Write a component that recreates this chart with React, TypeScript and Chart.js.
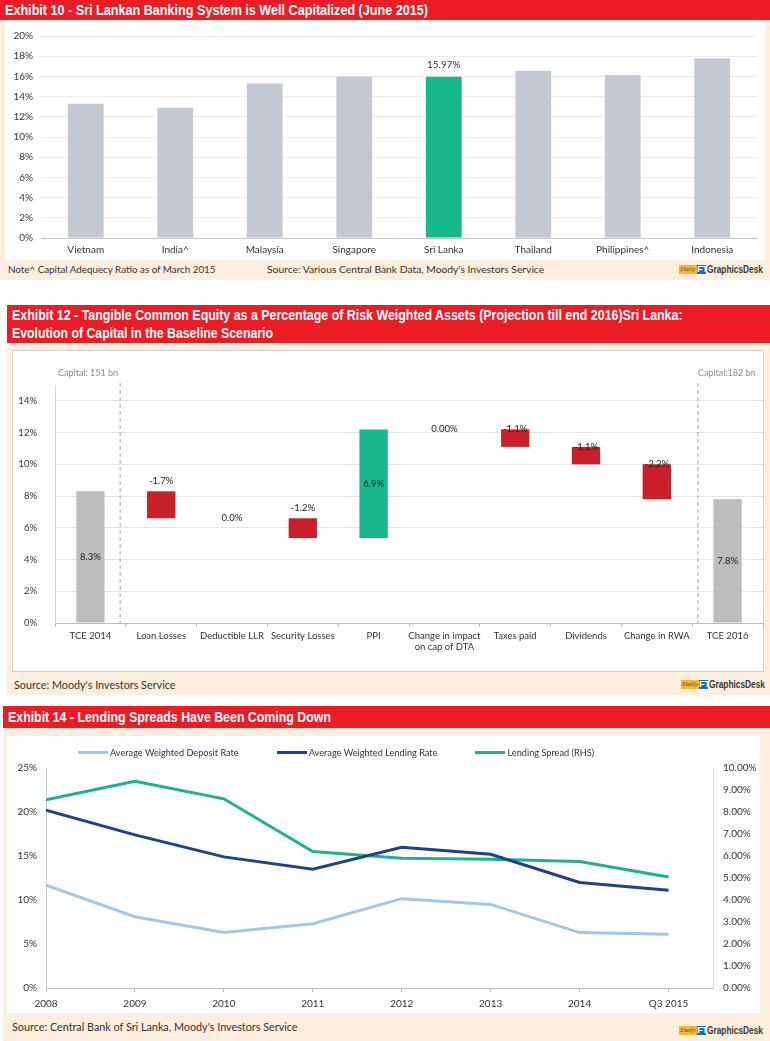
import React, { useEffect, useRef } from "react";
import Chart from "chart.js/auto";

document.body.style.margin = "0";

// ---------- Exhibit 10 data ----------
const capCountries = ["Vietnam", "India^", "Malaysia", "Singapore", "Sri Lanka", "Thailand", "Philippines^", "Indonesia"];
const capRatios = [13.3, 12.9, 15.3, 16.0, 15.97, 16.55, 16.15, 17.8];
const capHighlight = "Sri Lanka";

// ---------- Exhibit 12 data ----------
const wfCategories: any[] = ["TCE 2014", "Loan Losses", "Deductible LLR", "Security Losses", "PPI", ["Change in impact", "on cap of DTA"], "Taxes paid", "Dividends", "Change in RWA", "TCE 2016"];
const wfLevels = [8.3, 6.6, 6.6, 5.35, 12.2, 12.2, 11.1, 10.0, 7.8, 7.8];
const wfKinds = ["total", "step", "step", "step", "step", "step", "step", "step", "step", "total"];
const wfLabels = ["8.3%", "-1.7%", "0.0%", "-1.2%", "6.9%", "0.00%", "-1.1%", "-1.1%", "-2.2%", "7.8%"];
const wfLabelPlacement = ["middle", "above", "level", "above", "middle", "level", "edge", "edge", "edge", "middle"];
const capitalStartLabel = "Capital: 151 bn";
const capitalEndLabel = "Capital:182 bn";

// ---------- Exhibit 14 data ----------
const rateYears = ["2008", "2009", "2010", "2011", "2012", "2013", "2014", "Q3 2015"];
const depositRate = [11.7, 8.1, 6.3, 7.3, 10.15, 9.5, 6.3, 6.1];
const lendingRate = [20.2, 17.4, 14.9, 13.5, 16.0, 15.2, 12.0, 11.1];
const lendingSpread = [8.55, 9.4, 8.6, 6.2, 5.9, 5.85, 5.75, 5.05];
const rateSeriesNames = ["Average Weighted Deposit Rate", "Average Weighted Lending Rate", "Lending Spread (RHS)"];

const FONT = "Lato, 'Open Sans', sans-serif";
const TITLE_FONT = "'Liberation Sans', Arial, sans-serif";
const RED = "#ec1c24";
const CREAM = "#fdeedd";
const GREEN = "#18b88a";
const BAR_GREY = "#c3c8d1";
const WF_RED = "#c9202a";
const WF_GREY = "#bdbdbd";
const rateColors = ["#a4c6e7", "#213f8f", "#1ab48a"];

let measureCtx: CanvasRenderingContext2D | null = null;
function textWidth(text: string, font: string) {
  if (!measureCtx) measureCtx = document.createElement("canvas").getContext("2d");
  measureCtx!.font = font;
  return measureCtx!.measureText(text).width;
}

function Squeeze({ text, size, bold, family, width, color }: any) {
  const font = `${bold ? "bold " : ""}${size}px ${family}`;
  const w = textWidth(text, font);
  const s = Math.min(1, width / w);
  return (
    <span
      style={{
        display: "inline-block",
        font,
        color,
        transform: `scaleX(${s})`,
        transformOrigin: "left center",
        whiteSpace: "nowrap",
        width: w,
      }}
    >
      {text}
    </span>
  );
}

function capConfig(): any {
  const labelPlugin = {
    id: "capLabel",
    afterDatasetsDraw(chart: any) {
      const { ctx } = chart;
      const meta = chart.getDatasetMeta(0);
      const i = capCountries.indexOf(capHighlight);
      const bar = meta.data[i];
      ctx.save();
      ctx.font = `10px ${FONT}`;
      ctx.fillStyle = "#333";
      ctx.textAlign = "center";
      ctx.textBaseline = "middle";
      ctx.fillText(capRatios[i].toFixed(2) + "%", bar.x, bar.y - 12);
      ctx.restore();
    },
  };
  return {
    type: "bar",
    data: {
      labels: capCountries,
      datasets: [
        {
          data: capRatios,
          backgroundColor: capCountries.map((c) => (c === capHighlight ? GREEN : BAR_GREY)),
          barPercentage: 0.4,
          categoryPercentage: 1,
        },
      ],
    },
    options: {
      responsive: false,
      animation: false,
      layout: { padding: { top: 14, right: 8, left: 0, bottom: 0 } },
      plugins: { legend: { display: false }, tooltip: { enabled: false } },
      scales: {
        x: {
          grid: { display: false, drawTicks: false },
          border: { display: true, color: "#c6c6c6" },
          ticks: { padding: 6, color: "#333", font: { family: FONT, size: 10 } },
          afterFit: (s: any) => { s.height = 24; },
        },
        y: {
          min: 0,
          max: 20,
          border: { display: false },
          grid: { color: "#ececec", drawTicks: false },
          ticks: { stepSize: 2, padding: 8, color: "#333", font: { family: FONT, size: 10 }, callback: (v: any) => v + "%" },
          afterFit: (s: any) => { s.width = 36; },
        },
      },
    },
    plugins: [labelPlugin],
  };
}

function wfConfig(): any {
  const lows: number[] = [];
  const highs: number[] = [];
  const data = wfLevels.map((lvl, i) => {
    if (wfKinds[i] === "total") {
      lows.push(0); highs.push(lvl);
      return [0, lvl];
    }
    const prev = wfLevels[i - 1];
    lows.push(Math.min(prev, lvl)); highs.push(Math.max(prev, lvl));
    return prev === lvl ? null : [prev, lvl];
  });
  const colors = wfLevels.map((lvl, i) => (wfKinds[i] === "total" ? WF_GREY : lvl > wfLevels[i - 1] ? GREEN : WF_RED));
  const decor = {
    id: "wfDecor",
    afterDatasetsDraw(chart: any) {
      const { ctx, chartArea } = chart;
      const x = chart.scales.x;
      const y = chart.scales.y;
      const n = wfCategories.length;
      const step = x.getPixelForValue(1) - x.getPixelForValue(0);
      ctx.save();
      ctx.setLineDash([4, 3]);
      ctx.strokeStyle = "#a8a8a8";
      ctx.lineWidth = 1;
      const d1 = x.getPixelForValue(0) + step * 0.42;
      const d2 = x.getPixelForValue(n - 1) - step * 0.42;
      [d1, d2].forEach((px) => {
        ctx.beginPath();
        ctx.moveTo(px, chartArea.top - 2);
        ctx.lineTo(px, chartArea.bottom);
        ctx.stroke();
      });
      ctx.setLineDash([]);
      ctx.font = `9px ${FONT}`;
      ctx.fillStyle = "#8c8c8c";
      ctx.textBaseline = "middle";
      ctx.textAlign = "left";
      ctx.fillText(capitalStartLabel, chartArea.left + 3, chartArea.top - 12);
      ctx.fillText(capitalEndLabel, d2, chartArea.top - 12);
      ctx.font = `9.5px ${FONT}`;
      ctx.fillStyle = "#222";
      ctx.textAlign = "center";
      wfLabels.forEach((txt, i) => {
        const px = x.getPixelForValue(i);
        const place = wfLabelPlacement[i];
        let py: number;
        if (place === "middle") py = y.getPixelForValue((lows[i] + highs[i]) / 2);
        else if (place === "above") py = y.getPixelForValue(highs[i]) - 10;
        else if (place === "level") py = y.getPixelForValue(wfLevels[i]);
        else py = y.getPixelForValue(highs[i]);
        ctx.fillText(txt, px, py);
      });
      ctx.restore();
    },
  };
  return {
    type: "bar",
    data: {
      labels: wfCategories,
      datasets: [{ data, backgroundColor: colors, barPercentage: 0.4, categoryPercentage: 1 }],
    },
    options: {
      responsive: false,
      animation: false,
      layout: { padding: { top: 35, right: 1, left: 0, bottom: 0 } },
      plugins: { legend: { display: false }, tooltip: { enabled: false } },
      scales: {
        x: {
          grid: { display: true, drawOnChartArea: false, drawTicks: true, tickLength: 4, color: "#bdbdbd" },
          border: { display: true, color: "#bdbdbd" },
          ticks: { padding: 3, color: "#333", font: { family: FONT, size: 9.5 }, maxRotation: 0, autoSkip: false },
          afterFit: (s: any) => { s.height = 49; },
        },
        y: {
          min: 0,
          max: 15,
          border: { display: true, color: "#d4d4d4" },
          grid: { color: "#e4e4e4", drawTicks: false },
          ticks: { stepSize: 2, includeBounds: false, padding: 18, color: "#333", font: { family: FONT, size: 9.5 }, callback: (v: any) => v + "%" },
          afterFit: (s: any) => { s.width = 43; },
        },
      },
    },
    plugins: [decor],
  };
}

function rateConfig(): any {
  const toPts = (arr: number[]) => arr.map((v, i) => ({ x: i, y: v }));
  const series = [depositRate, lendingRate, lendingSpread];
  return {
    type: "line",
    data: {
      datasets: series.map((arr, k) => ({
        label: rateSeriesNames[k],
        data: toPts(arr),
        borderColor: rateColors[k],
        backgroundColor: rateColors[k],
        borderWidth: 3,
        pointRadius: 0,
        tension: 0,
        yAxisID: k === 2 ? "y1" : "y",
      })),
    },
    options: {
      responsive: false,
      animation: false,
      layout: { padding: { top: 32, right: 0, left: 0, bottom: 0 } },
      plugins: { legend: { display: false }, tooltip: { enabled: false } },
      scales: {
        x: {
          type: "linear",
          min: 0,
          max: rateYears.length - 0.5,
          grid: { display: true, drawOnChartArea: false, drawTicks: true, tickLength: 4, color: "#bdbdbd" },
          border: { display: true, color: "#bdbdbd" },
          ticks: {
            stepSize: 1,
            includeBounds: false,
            padding: 6,
            color: "#333",
            font: { family: FONT, size: 10 },
            maxRotation: 0,
            autoSkip: false,
            callback: (v: any) => (Number.isInteger(v) && rateYears[v] !== undefined ? rateYears[v] : ""),
          },
          afterFit: (s: any) => { s.height = 25; },
        },
        y: {
          position: "left",
          min: 0,
          max: 25,
          grid: { display: false, drawTicks: false },
          border: { display: true, color: "#cfcfcf" },
          ticks: { stepSize: 5, padding: 9, color: "#333", font: { family: FONT, size: 10 }, callback: (v: any) => v + "%" },
          afterFit: (s: any) => { s.width = 39; },
        },
        y1: {
          position: "right",
          min: 0,
          max: 10,
          grid: { display: false, drawTicks: false },
          border: { display: true, color: "#dcdcdc" },
          ticks: { stepSize: 1, padding: 10, color: "#333", font: { family: FONT, size: 10 }, callback: (v: any) => Number(v).toFixed(2) + "%" },
          afterFit: (s: any) => { s.width = 47; },
        },
      },
    },
  };
}

function ChartCanvas({ makeConfig, left, top, width, height }: any) {
  const ref = useRef<HTMLCanvasElement>(null);
  useEffect(() => {
    const chart = new Chart(ref.current as HTMLCanvasElement, makeConfig());
    return () => chart.destroy();
  }, []);
  return (
    <canvas
      ref={ref}
      width={width}
      height={height}
      style={{ position: "absolute", left, top, width, height, zIndex: 2 }}
    />
  );
}

const abs = (s: any) => ({ position: "absolute" as const, ...s });

function Header({ left, top, height, lines }: any) {
  return (
    <div
      style={abs({
        left,
        top,
        width: 770 - left,
        height,
        background: RED,
        paddingLeft: 5,
        boxSizing: "border-box",
        display: "flex",
        flexDirection: "column",
        justifyContent: "center",
      })}
    >
      {lines.map((ln: any, i: number) => (
        <div key={i} style={{ height: 18, lineHeight: "18px", display: "flex", alignItems: "center" }}>
          <Squeeze text={ln.text} size={14} bold family={TITLE_FONT} width={ln.width} color="#fff" />
        </div>
      ))}
    </div>
  );
}

function Logo({ left, top }: any) {
  return (
    <div style={abs({ left, top, height: 12, display: "flex", alignItems: "center", whiteSpace: "nowrap" })}>
      <span
        style={{
          background: "#f3b43a",
          color: "#7a4c00",
          fontStyle: "italic",
          fontFamily: "'Liberation Serif', serif",
          fontSize: 7,
          lineHeight: "9px",
          height: 9,
          width: 18,
          display: "inline-block",
          textAlign: "center",
        }}
      >
        Daily
      </span>
      <span
        style={{
          background: "#1d6fb8",
          color: "#fff",
          fontFamily: TITLE_FONT,
          fontWeight: "bold",
          fontSize: 9,
          lineHeight: "9px",
          height: 9,
          width: 9,
          display: "inline-block",
          textAlign: "center",
        }}
      >
        FT
      </span>
      <span style={{ marginLeft: 1, display: "inline-flex", alignItems: "center" }}>
        <Squeeze text="GraphicsDesk" size={11.5} bold family={TITLE_FONT} width={56} color="#3a3a3a" />
      </span>
    </div>
  );
}

function Note({ left, top, size, children }: any) {
  return (
    <div style={abs({ left, top, fontFamily: FONT, fontSize: size, color: "#333", whiteSpace: "nowrap", lineHeight: "14px" })}>
      {children}
    </div>
  );
}

export default function App() {
  return (
    <div style={{ position: "relative", width: 770, height: 1041, background: "#fff", overflow: "hidden" }}>
      {/* Exhibit 10 */}
      <Header
        left={0}
        top={0}
        height={20}
        lines={[{ text: "Exhibit 10 - Sri Lankan Banking System is Well Capitalized (June 2015)", width: 423 }]}
      />
      <div style={abs({ left: 0, top: 20, width: 770, height: 260, background: CREAM })} />
      <div style={abs({ left: 5, top: 22, width: 760, height: 238, background: "#fff" })} />
      <ChartCanvas makeConfig={capConfig} left={5} top={22} width={760} height={240} />
      <Note left={8} top={262} size={9.8}>Note^ Capital Adequecy Ratio as of March 2015</Note>
      <Note left={267} top={262} size={10.3}>Source: Various Central Bank Data, Moody's Investors Service</Note>
      <Logo left={679} top={263} />

      {/* Exhibit 12 */}
      <Header
        left={7}
        top={305}
        height={38}
        lines={[
          { text: "Exhibit 12 - Tangible Common Equity as a Percentage of Risk Weighted Assets (Projection till end 2016)Sri Lanka:", width: 671 },
          { text: "Evolution of Capital in the Baseline Scenario", width: 261 },
        ]}
      />
      <div style={abs({ left: 7, top: 343, width: 763, height: 352, background: CREAM })} />
      <div style={abs({ left: 12, top: 350, width: 752, height: 322, background: "#fff", border: "1px solid #d9d2c9", boxSizing: "border-box" })} />
      <ChartCanvas makeConfig={wfConfig} left={12} top={350} width={752} height={322} />
      <Note left={14} top={678} size={10.8}>Source: Moody's Investors Service</Note>
      <Logo left={681} top={678} />

      {/* Exhibit 14 */}
      <Header
        left={3}
        top={706}
        height={22}
        lines={[{ text: "Exhibit 14 - Lending Spreads Have Been Coming Down", width: 323 }]}
      />
      <div style={abs({ left: 3, top: 728, width: 767, height: 313, background: CREAM })} />
      <div style={abs({ left: 7, top: 736, width: 753, height: 277, background: "#fff" })} />
      <ChartCanvas makeConfig={rateConfig} left={7} top={736} width={753} height={277} />
      <div style={abs({ left: 78, top: 745, height: 14, display: "flex", alignItems: "center", gap: 38, zIndex: 3 })}>
        {rateSeriesNames.map((name, k) => (
          <div key={name} style={{ display: "flex", alignItems: "center", whiteSpace: "nowrap" }}>
            <span style={{ display: "inline-block", width: 30, height: 3, background: rateColors[k], marginRight: 2 }} />
            <span style={{ fontFamily: FONT, fontSize: 9.2, color: "#333" }}>{name}</span>
          </div>
        ))}
      </div>
      <Note left={12} top={1020} size={10.8}>Source: Central Bank of Sri Lanka, Moody's Investors Service</Note>
      <Logo left={679} top={1024} />
    </div>
  );
}
